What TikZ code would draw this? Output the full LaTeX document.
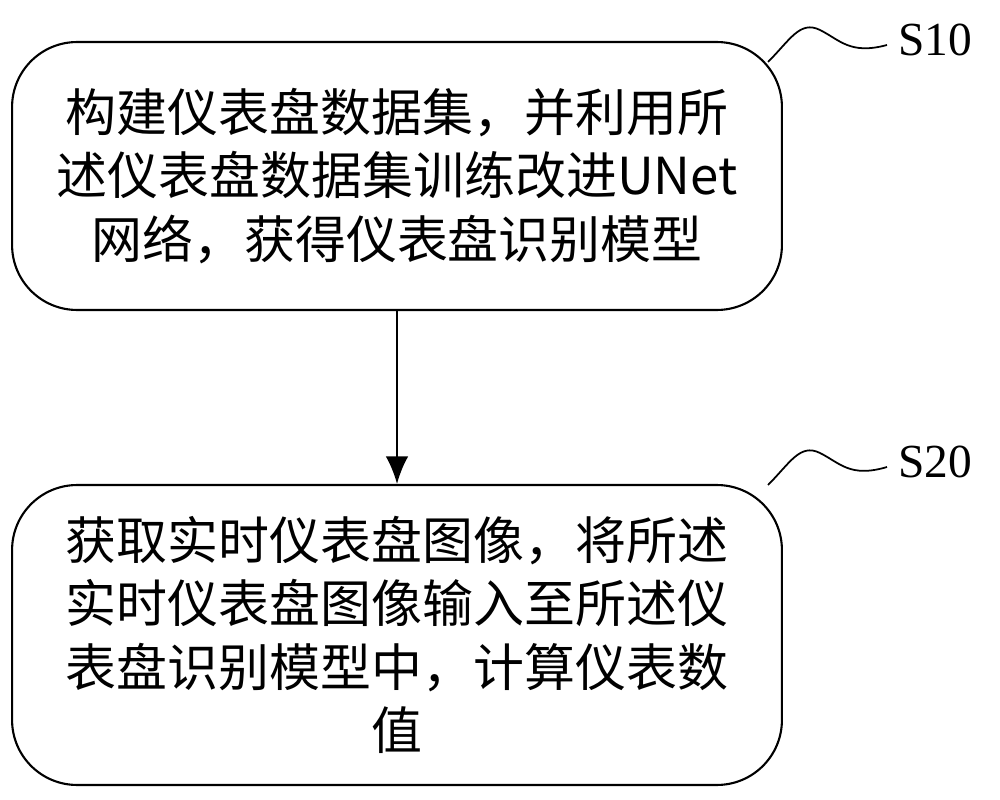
\documentclass[tikz,border=0pt]{standalone}
\usepackage{fontspec}
\setmainfont{Liberation Serif}
\newfontfamily\cjk{Noto Sans CJK SC}
\usetikzlibrary{positioning, arrows.meta}

\begin{document}
\begin{tikzpicture}[x=0.02cm, y=-0.02cm,
  stepbox/.style={draw, line width=1.2pt, rounded corners=1.3cm, minimum width=15.4cm, align=center,
    font=\cjk\fontsize{29}{36}\selectfont},
  steplabel/.style={font=\fontsize{27}{30}\selectfont}]
\useasboundingbox (0,0) rectangle (1000,800);

% Boxes
\node[stepbox, minimum height=5.36cm] (s10) at (397,176)
  {构建仪表盘数据集，并利用所\\述仪表盘数据集训练改进UNet\\网络，获得仪表盘识别模型};
\node[stepbox, minimum height=6.0cm] (s20) at (397,635)
  {获取实时仪表盘图像，将所述\\实时仪表盘图像输入至所述仪\\表盘识别模型中，计算仪表数\\值};

% Step labels
\node[steplabel] (l10) at (935,40) {S10};
\node[steplabel] (l20) at (935,462) {S20};

% Wavy leaders
\coordinate (w10) at (768,62);
\coordinate (w20) at (768,485);
\draw[line width=1pt] (w10) .. controls (790,40) and (800,20) .. (820,30)
  .. controls (840,40) and (850,55) .. (887,45);
\draw[line width=1pt] (w20) .. controls (790,463) and (800,443) .. (820,453)
  .. controls (840,463) and (850,478) .. (887,467);

% Arrow
\draw[line width=1.2pt, -{Latex[length=0.55cm, width=0.45cm]}] (s10) -- (s20);
\end{tikzpicture}
\end{document}
